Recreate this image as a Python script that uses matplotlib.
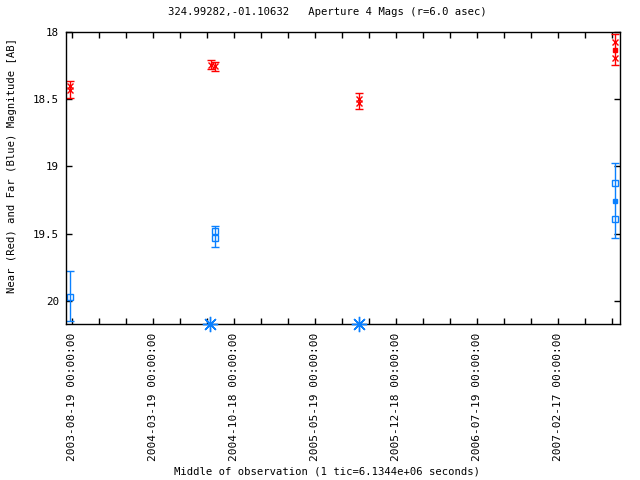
import matplotlib
matplotlib.use('Agg')
import matplotlib.pyplot as plt
import matplotlib.dates as mdates
import numpy as np
from datetime import datetime, timedelta

plt.rcParams['font.family'] = 'DejaVu Sans Mono'
plt.rcParams['font.size'] = 7.6

# individual measurements (near = red, far = blue)
red_pt_dates = ['2003-08-15', '2003-08-15', '2004-08-19', '2004-08-31',
                '2005-09-13', '2005-09-13', '2007-07-18', '2007-07-18']
red_pt_mag = [18.40, 18.43, 18.24, 18.25, 18.50, 18.527, 18.07, 18.19]

blue_pt_dates = ['2003-08-15', '2004-08-31', '2004-08-31', '2007-07-18', '2007-07-18']
blue_pt_mag = [19.97, 19.48, 19.535, 19.125, 19.39]

# error bars per epoch
red_bar_dates = ['2003-08-15', '2004-08-19', '2004-08-31', '2005-09-13', '2007-07-18']
red_bar_mag = [18.425, 18.24, 18.255, 18.515, 18.13]
red_bar_err = [0.065, 0.03, 0.035, 0.06, 0.115]

blue_bar_dates = ['2003-08-15', '2004-08-31', '2007-07-18']
blue_bar_mag = [19.965, 19.52, 19.255]
blue_bar_err = [0.185, 0.08, 0.28]

# non-detections drawn at the faint edge
blue_lim_dates = ['2004-08-17', '2005-09-12']

RED = '#ff0000'
BLUE = '#0a80ff'


def to_num(lst):
    return mdates.date2num([datetime.strptime(d, '%Y-%m-%d') for d in lst])


fig = plt.figure(figsize=(6.4, 4.8), dpi=100)
ax = fig.add_axes([0.1027, 0.325, 0.8660, 0.6077])

ymin, ymax = 18.0, 20.174
base = datetime(2003, 8, 19)
x0 = mdates.date2num(base)

ax.errorbar(to_num(red_bar_dates), red_bar_mag, yerr=red_bar_err, fmt='none',
            ecolor=RED, elinewidth=1.0, capsize=2.6, capthick=1.0)
ax.errorbar(to_num(blue_bar_dates), blue_bar_mag, yerr=blue_bar_err, fmt='none',
            ecolor=BLUE, elinewidth=1.0, capsize=2.6, capthick=1.0)
ax.plot(to_num(red_pt_dates), red_pt_mag, 'x', color=RED, ms=3.8, mew=1.0)
ax.plot(to_num(blue_pt_dates), blue_pt_mag, 's', color=BLUE, ms=3.8,
        mfc='none', mew=1.0)
ax.plot(to_num(red_bar_dates[-1:]), red_bar_mag[-1:], 's', color=RED, ms=2.2)
ax.plot(to_num(blue_bar_dates[-1:]), blue_bar_mag[-1:], 's', color=BLUE, ms=2.2)
ax.plot(to_num(blue_lim_dates), [ymax] * len(blue_lim_dates), linestyle='none',
        marker=(8, 2, 0), color=BLUE, ms=11, mew=1.0, clip_on=False, zorder=5)

ax.set_ylim(ymax, ymin)
ax.set_xlim(x0 - 15.8, x0 + 1441.7)
ax.set_yticks([18, 18.5, 19, 19.5, 20])
ax.set_yticklabels(['18', '18.5', '19', '19.5', '20'])

tic_days = 6.1344e6 / 86400.0
ticks = [x0 + k * tic_days for k in range(21)]
labels = [(base + timedelta(days=k * tic_days)).strftime('%Y-%m-%d %H:%M:%S')
          if k % 3 == 0 else '' for k in range(21)]
ax.set_xticks(ticks)
ax.set_xticklabels(labels, rotation=90, fontsize=8.0)

ax.tick_params(direction='in', length=4.2, width=1.0, top=True, right=True)
ax.tick_params(axis='x', pad=6)
ax.tick_params(axis='y', pad=5, labelsize=7.8)
for s in ax.spines.values():
    s.set_linewidth(1.0)

fig.text(0.019, 0.655, 'Near (Red) and Far (Blue) Magnitude [AB]',
         rotation=90, ha='center', va='center')
fig.text(0.511, 0.0167, 'Middle of observation (1 tic=6.1344e+06 seconds)',
         ha='center', va='center')
fig.text(0.512, 0.975, '324.99282,-01.10632   Aperture 4 Mags (r=6.0 asec)',
         ha='center', va='center')

fig.savefig('out.png', dpi=100)
